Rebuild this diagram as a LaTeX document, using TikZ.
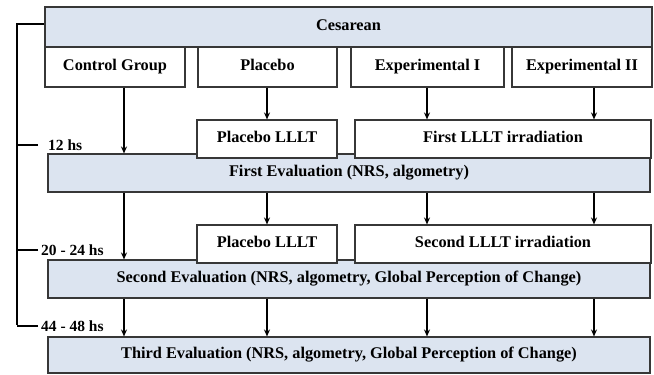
\documentclass[tikz,border=0pt]{standalone}
\usepackage{fontspec}
\setmainfont{Liberation Serif}
\usetikzlibrary{arrows.meta}
\definecolor{evalblue}{RGB}{220,228,240}
\definecolor{edge}{RGB}{55,55,55}

\begin{document}
\begin{tikzpicture}[x=1pt,y=-1pt,>=Stealth,
  box/.style={draw=edge,line width=1.1pt,fill=white,inner sep=0pt,
    font=\fontsize{16.3}{18}\selectfont\bfseries,minimum height=40pt,
    text height=11pt,text depth=3.5pt},
  evalbox/.style={box,fill=evalblue,minimum height=38pt},
  arr/.style={line width=1.3pt,-{Stealth[length=7pt,width=6pt]}},
  tline/.style={line width=2pt,black},
  hs/.style={font=\fontsize{15.5}{17}\selectfont\bfseries,inner ysep=0pt,
    inner xsep=3pt,anchor=west}]
  \useasboundingbox (0,0) rectangle (654,375);
  \coordinate (c1) at (124,0);
  \coordinate (c2) at (267,0);
  \coordinate (c3) at (427,0);
  \coordinate (c4) at (594,0);
  \coordinate (bot) at (17,325);

  \node[evalbox,minimum width=607pt,minimum height=40pt] (ces) at (348.5,27) {Cesarean};
  \node[box,minimum width=140pt] (ctrl) at (115,67) {Control Group};
  \node[box,minimum width=139pt] (plac) at (267.5,67) {Placebo};
  \node[box,minimum width=153pt] (exp1) at (427.5,67) {Experimental I};
  \node[box,minimum width=140pt] (exp2) at (582,67) {Experimental II};

  \node[evalbox,minimum width=602pt] (ev1) at (349,173) {First Evaluation (NRS, algometry)};
  \node[box,minimum width=140pt,minimum height=38pt] (pl1) at (267,139) {Placebo LLLT};
  \node[box,minimum width=296pt,minimum height=38pt] (ir1) at (503,139) {First LLLT irradiation};

  \node[evalbox,minimum width=602pt] (ev2) at (349,279)
    {Second Evaluation (NRS, algometry, Global Perception of Change)};
  \node[box,minimum width=140pt,minimum height=38pt] (pl2) at (267,244) {Placebo LLLT};
  \node[box,minimum width=296pt,minimum height=38pt] (ir2) at (503,244) {Second LLLT irradiation};

  \node[evalbox,minimum width=602pt,minimum height=36pt] (ev3) at (349,355)
    {Third Evaluation (NRS, algometry, Global Perception of Change)};

  \draw[arr] (ctrl.south -| c1) -- (ev1.north -| c1);
  \draw[arr] (plac.south -| c2) -- (pl1.north -| c2);
  \draw[arr] (exp1.south -| c3) -- (ir1.north -| c3);
  \draw[arr] (exp2.south -| c4) -- (ir1.north -| c4);

  \draw[arr] (ev1.south -| c1) -- (ev2.north -| c1);
  \draw[arr] (ev1.south -| c2) -- (pl2.north -| c2);
  \draw[arr] (ev1.south -| c3) -- (ir2.north -| c3);
  \draw[arr] (ev1.south -| c4) -- (ir2.north -| c4);

  \foreach \c in {c1,c2,c3,c4}
    \draw[arr] (ev2.south -| \c) -- (ev3.north -| \c);

  \node[hs,inner xsep=10pt] (h1) at (38,145) {12 hs};
  \node[hs] (h2) at (38,250) {20 - 24 hs};
  \node[hs] (h3) at (38,326) {44 - 48 hs};

  \draw[tline] ([yshift=3pt]ces.west) -| (bot);
  \draw[tline] (h1.west) -- (h1.west -| bot);
  \draw[tline] (h2.west) -- (h2.west -| bot);
  \draw[tline] (h3.west) -- (h3.west -| bot);
\end{tikzpicture}
\end{document}
